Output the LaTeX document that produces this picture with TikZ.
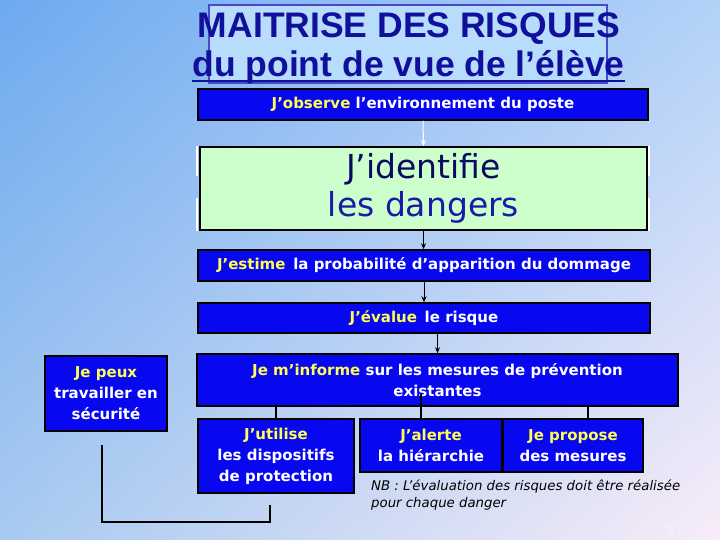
\documentclass[tikz,border=0pt]{standalone}
\usepackage{fontspec}
\setmainfont{DejaVu Sans}
\newfontfamily\titlefont{Liberation Sans}
\usetikzlibrary{arrows.meta,shadings}
\definecolor{bgTL}{HTML}{6EAAF0}
\definecolor{bgTR}{HTML}{B2D2F8}
\definecolor{bgBL}{HTML}{A8CAF0}
\definecolor{bgBR}{HTML}{F8ECF8}
\definecolor{boxblue}{HTML}{0808F0}
\definecolor{hlyellow}{HTML}{FFFF55}
\definecolor{idgreen}{HTML}{CCFFCC}
\definecolor{titleblue}{HTML}{10109C}
\definecolor{titlefill}{HTML}{B8DCFC}
\definecolor{titleedge}{HTML}{4848C8}
\definecolor{navy}{HTML}{0A0A60}
\definecolor{danger}{HTML}{1A1AA8}
\newcommand{\hl}[1]{\textcolor{hlyellow}{#1}}
\begin{document}
\begin{tikzpicture}[x=1pt,y=-1pt,
  bluebox/.style={draw=black, line width=1.5pt, fill=boxblue, text=white,
    font=\bfseries\fontsize{15}{21}\selectfont, inner sep=0pt, align=center},
  titletext/.style={anchor=base, text=titleblue, font=\titlefont\bfseries\fontsize{35.5}{40}\selectfont, inner sep=0pt},
  arrw/.style={line width=1pt, -{Stealth[length=6pt,width=5pt]}},
  conn/.style={line width=1.5pt, black}]
\useasboundingbox (0,0) rectangle (720,540);
\shade[upper left=bgTL, upper right=bgTR, lower left=bgBL, lower right=bgBR] (0,0) rectangle (720,540);
% title
\draw[fill=titlefill, draw=titleedge, line width=2pt] (209,5) rectangle (607,83);
\node[titletext] (t1) at (409,38) {MAITRISE DES RISQUES};
\node[titletext] (t2) at (408.5,77) {du point de vue de l’élève};
\draw[titleblue, line width=2.5pt] ([yshift=-4pt]t2.base west) -- ([yshift=-4pt]t2.base east);
% main boxes
\node[bluebox, minimum width=450pt, minimum height=31pt] (obs) at (423,104.5) {\hl{J'observe} l'environnement du poste};
\draw[white, line width=1.2pt] (197,146) -- (197,176) (197,198) -- (197,231)
  (649,146) -- (649,176) (649,198) -- (649,231);
\node[draw=black, line width=1.5pt, fill=idgreen, minimum width=447pt, minimum height=83pt, align=center, inner sep=0pt,
  font=\fontsize{33}{38}\selectfont] (ident) at (423.5,188.5) {\textcolor{navy}{J'identifie}\\\textcolor{danger}{les dangers}};
\node[bluebox, minimum width=452pt, minimum height=31pt] (est) at (424,265.5) {\hl{J'estime}\, la probabilité d'apparition du dommage};
\node[bluebox, minimum width=452pt, minimum height=30pt] (eval) at (424,318) {\hl{J'évalue}\, le risque};
\node[bluebox, minimum width=481pt, minimum height=52pt] (info) at (437.5,380) {\hl{Je m'informe} sur les mesures de prévention\\existantes};
\node[bluebox, minimum width=122pt, minimum height=75pt] (peux) at (106,393.5) {\hl{Je peux}\\travailler en\\sécurité};
\node[bluebox, minimum width=156pt, minimum height=74pt] (util) at (276,456) {\hl{J'utilise}\\les dispositifs\\de protection};
\node[bluebox, minimum width=142pt, minimum height=53pt] (alerte) at (431,445.5) {\hl{J'alerte}\\la hiérarchie};
\node[bluebox, minimum width=140pt, minimum height=53pt] (propose) at (573,445.5) {\hl{Je propose}\\des mesures};
% arrows
\draw[arrw, white] (obs.south) -- (ident.north);
\draw[arrw] (ident.south) -- (ident.south |- est.north);
\draw[arrw] (est.south) -- (est.south |- eval.north);
\draw[arrw] (eval.south -| info.north) -- (info.north);
% connectors
\draw[conn] (util.north |- info.south) -- (util.north);
\draw[conn] ([xshift=-10pt]alerte.north) -- ++(0,-24);
\draw[conn] ([xshift=15pt]propose.north) -- ([xshift=15pt]propose.north |- info.south);
\coordinate (c1) at ([xshift=-4pt,yshift=-13pt]peux.south);
\coordinate (c2) at ([xshift=-6pt,yshift=-11pt]util.south);
\draw[conn] (c1) -- (c1 |- 0,522) -- (c2 |- 0,522) -- (c2);
% note
\node[anchor=base west, align=left, inner sep=0pt, font=\itshape\fontsize{13.3}{17}\selectfont] (nb) at (371,507)
  {NB : L'évaluation des risques doit être réalisée\\pour chaque danger};
\node[text=white, opacity=0.6, font=\fontsize{10}{12}\selectfont, inner sep=0pt] (pg) at (671,530) {5};
\end{tikzpicture}
\end{document}
